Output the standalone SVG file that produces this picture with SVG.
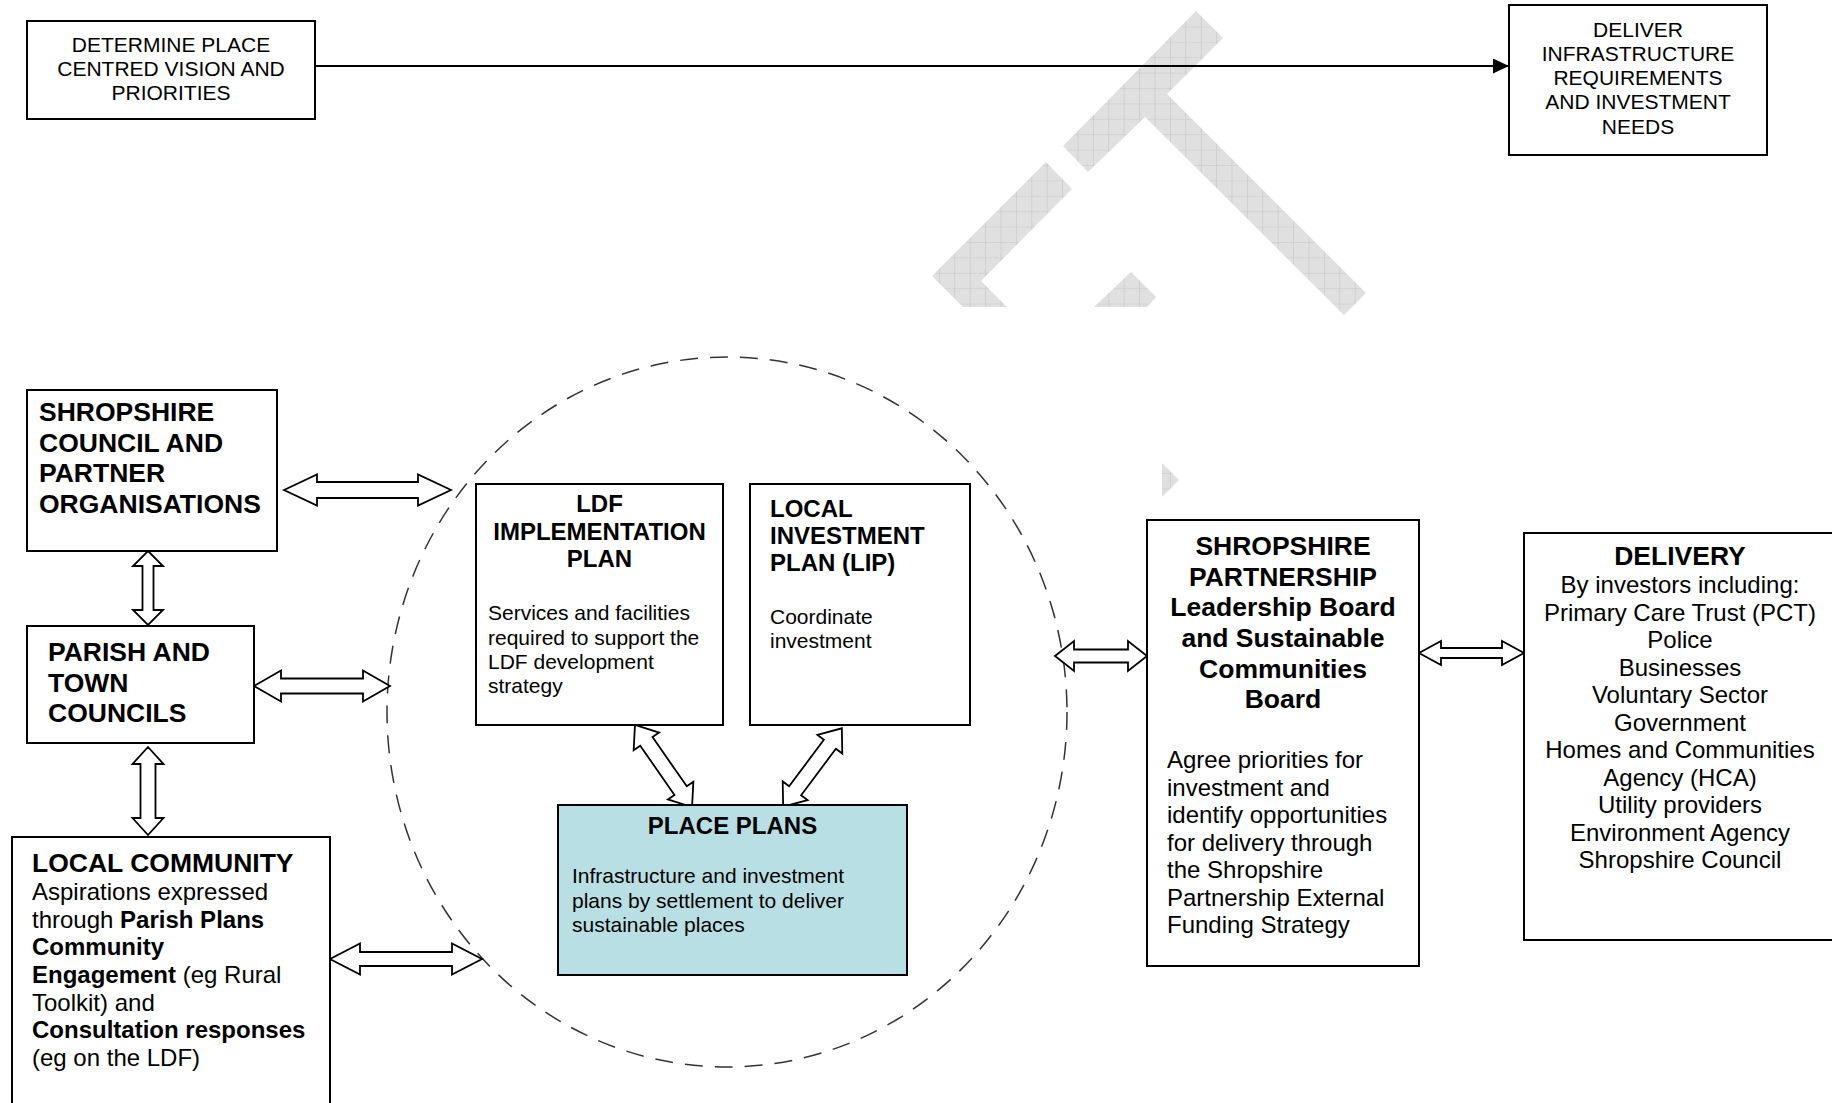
<svg xmlns="http://www.w3.org/2000/svg" width="1832" height="1103" viewBox="0 0 1832 1103">
<style>
.box{fill:#fff;stroke:#000;stroke-width:2}
.pp{fill:#b8dfe3;stroke:#000;stroke-width:2}
.dar{fill:#fff;stroke:#000;stroke-width:1.8;stroke-linejoin:miter}
.t{font-family:"Liberation Sans",Arial,sans-serif;fill:#000}
.s21{font-size:21px}
.s24{font-size:24px}
.b24{font-size:24px;font-weight:bold}
.b26{font-size:26.5px;font-weight:bold}
.c{text-anchor:middle}
.wm{fill:url(#grid)}
</style>
<defs>
<pattern id="grid" patternUnits="userSpaceOnUse" x="14.9" y="11" width="15.4" height="15.4">
<rect width="15.4" height="15.4" fill="#e0e0e0"/>
<path d="M0,0 V15.4 M0,0 H15.4" stroke="#c6c6c6" stroke-width="1.2"/>
</pattern>
<marker id="ah" markerUnits="userSpaceOnUse" markerWidth="16" markerHeight="15" refX="16" refY="7.5" orient="auto">
<path d="M0,0 L16,7.5 L0,15 z" fill="#000"/>
</marker>
</defs>

<g id="watermark">
<polygon class="wm" points="1196,11 1223,38 1167,94 1366,293 1344,315 1145,117 1088,172 1063,146"/>
<polygon class="wm" points="1046,162 1072,189 981,281 1007,307 963,307 932,276"/>
<polygon class="wm" points="1131,272 1156,297 1147,307 1094,307"/>
<polygon class="wm" points="1162,463 1179,480 1162,497"/>
</g>

<g id="place-ellipse">
<ellipse cx="727" cy="712" rx="340" ry="355" fill="none" stroke="#333" stroke-width="1.5" stroke-dasharray="18 12"/>
</g>

<g id="connectors">
<line x1="315" y1="66" x2="1509" y2="66" stroke="#000" stroke-width="2" marker-end="url(#ah)"/>
<polygon class="dar" points="284,490 317,474.5 317,482 418,482 418,474.5 451,490 418,505.5 418,498 317,498 317,505.5"/>
<polygon class="dar" points="254,686 281,670.5 281,678.5 363,678.5 363,670.5 390,686 363,701.5 363,693.5 281,693.5 281,701.5"/>
<polygon class="dar" points="330,959 360,943.5 360,952 452,952 452,943.5 482,959 452,974.5 452,966 360,966 360,974.5"/>
<polygon class="dar" points="148,551 163,566 153.5,566 153.5,610 163,610 148,625 133,610 142.5,610 142.5,566 133,566"/>
<polygon class="dar" points="148,747 163.5,764 155.5,764 155.5,818 163.5,818 148,835 132.5,818 140.5,818 140.5,764 132.5,764"/>
<polygon class="dar" points="1055,656 1074,641 1074,649.5 1128,649.5 1128,641 1147,656 1128,671 1128,662.5 1074,662.5 1074,671"/>
<polygon class="dar" points="1419,653 1441,641 1441,648 1502,648 1502,641 1524,653 1502,665 1502,658 1441,658 1441,665"/>
<polygon class="dar" transform="translate(663.5,766) rotate(55.2)" points="-50,0 -30,-15.5 -30,-7.5 30,-7.5 30,-15.5 50,0 30,15.5 30,7.5 -30,7.5 -30,15.5"/>
<polygon class="dar" transform="translate(812.5,767.5) rotate(126.8)" points="-49,0 -29,-15.5 -29,-7.5 29,-7.5 29,-15.5 49,0 29,15.5 29,7.5 -29,7.5 -29,15.5"/>
</g>

<g id="determine">
<rect class="box" x="27" y="21" width="288" height="98"/>
<text class="t s21 c" x="171" y="52">DETERMINE PLACE</text>
<text class="t s21 c" x="171" y="76">CENTRED VISION AND</text>
<text class="t s21 c" x="171" y="99.5">PRIORITIES</text>
</g>

<g id="deliver-infra">
<rect class="box" x="1509" y="5" width="258" height="150"/>
<text class="t s21 c" x="1638" y="36.5">DELIVER</text>
<text class="t s21 c" x="1638" y="60.8">INFRASTRUCTURE</text>
<text class="t s21 c" x="1638" y="85.1">REQUIREMENTS</text>
<text class="t s21 c" x="1638" y="109.4">AND INVESTMENT</text>
<text class="t s21 c" x="1638" y="133.7">NEEDS</text>
</g>

<g id="shropshire-council">
<rect class="box" x="27" y="390" width="250" height="161"/>
<text class="t b26" x="39" y="421">SHROPSHIRE</text>
<text class="t b26" x="39" y="452">COUNCIL AND</text>
<text class="t b26" x="39" y="482">PARTNER</text>
<text class="t b26" x="39" y="513">ORGANISATIONS</text>
</g>

<g id="parish">
<rect class="box" x="27" y="626" width="227" height="117"/>
<text class="t b26" x="48" y="661">PARISH AND</text>
<text class="t b26" x="48" y="692">TOWN</text>
<text class="t b26" x="48" y="722">COUNCILS</text>
</g>

<g id="local-community">
<rect class="box" x="12" y="837" width="318" height="280"/>
<text class="t b26" x="32" y="872">LOCAL COMMUNITY</text>
<text class="t s24" x="32" y="900">Aspirations expressed</text>
<text class="t s24" x="32" y="928">through <tspan font-weight="bold">Parish Plans</tspan></text>
<text class="t b24" x="32" y="955">Community</text>
<text class="t s24" x="32" y="983"><tspan font-weight="bold">Engagement</tspan> (eg Rural</text>
<text class="t s24" x="32" y="1011">Toolkit) and</text>
<text class="t b24" x="32" y="1038">Consultation responses</text>
<text class="t s24" x="32" y="1066">(eg on the LDF)</text>
</g>

<g id="ldf">
<rect class="box" x="476" y="484" width="247" height="241"/>
<text class="t b24 c" x="599.5" y="512">LDF</text>
<text class="t b24 c" x="599.5" y="539.5">IMPLEMENTATION</text>
<text class="t b24 c" x="599.5" y="567">PLAN</text>
<text class="t s21" x="488" y="620">Services and facilities</text>
<text class="t s21" x="488" y="644.5">required to support the</text>
<text class="t s21" x="488" y="669">LDF development</text>
<text class="t s21" x="488" y="693">strategy</text>
</g>

<g id="lip">
<rect class="box" x="750" y="484" width="220" height="241"/>
<text class="t b24" x="770" y="517">LOCAL</text>
<text class="t b24" x="770" y="544">INVESTMENT</text>
<text class="t b24" x="770" y="571">PLAN (LIP)</text>
<text class="t s21" x="770" y="624">Coordinate</text>
<text class="t s21" x="770" y="648">investment</text>
</g>

<g id="place-plans">
<rect class="pp" x="558" y="805" width="349" height="170"/>
<text class="t b24 c" x="732.5" y="834">PLACE PLANS</text>
<text class="t s21" x="572" y="883">Infrastructure and investment</text>
<text class="t s21" x="572" y="908">plans by settlement to deliver</text>
<text class="t s21" x="572" y="932">sustainable places</text>
</g>

<g id="shropshire-partnership">
<rect class="box" x="1147" y="520" width="272" height="446"/>
<text class="t b26 c" x="1283" y="555">SHROPSHIRE</text>
<text class="t b26 c" x="1283" y="585.5">PARTNERSHIP</text>
<text class="t b26 c" x="1283" y="616">Leadership Board</text>
<text class="t b26 c" x="1283" y="647">and Sustainable</text>
<text class="t b26 c" x="1283" y="677.5">Communities</text>
<text class="t b26 c" x="1283" y="708">Board</text>
<text class="t s24" x="1167" y="768">Agree priorities for</text>
<text class="t s24" x="1167" y="795.5">investment and</text>
<text class="t s24" x="1167" y="823">identify opportunities</text>
<text class="t s24" x="1167" y="850.5">for delivery through</text>
<text class="t s24" x="1167" y="878">the Shropshire</text>
<text class="t s24" x="1167" y="905.5">Partnership External</text>
<text class="t s24" x="1167" y="933">Funding Strategy</text>
</g>

<g id="delivery">
<rect class="box" x="1524" y="533" width="320" height="407"/>
<text class="t b26 c" x="1680" y="565">DELIVERY</text>
<text class="t s24 c" x="1680" y="593">By investors including:</text>
<text class="t s24 c" x="1680" y="620.5">Primary Care Trust (PCT)</text>
<text class="t s24 c" x="1680" y="648">Police</text>
<text class="t s24 c" x="1680" y="675.5">Businesses</text>
<text class="t s24 c" x="1680" y="703">Voluntary Sector</text>
<text class="t s24 c" x="1680" y="730.5">Government</text>
<text class="t s24 c" x="1680" y="758">Homes and Communities</text>
<text class="t s24 c" x="1680" y="785.5">Agency (HCA)</text>
<text class="t s24 c" x="1680" y="813">Utility providers</text>
<text class="t s24 c" x="1680" y="840.5">Environment Agency</text>
<text class="t s24 c" x="1680" y="868">Shropshire Council</text>
</g>
</svg>
